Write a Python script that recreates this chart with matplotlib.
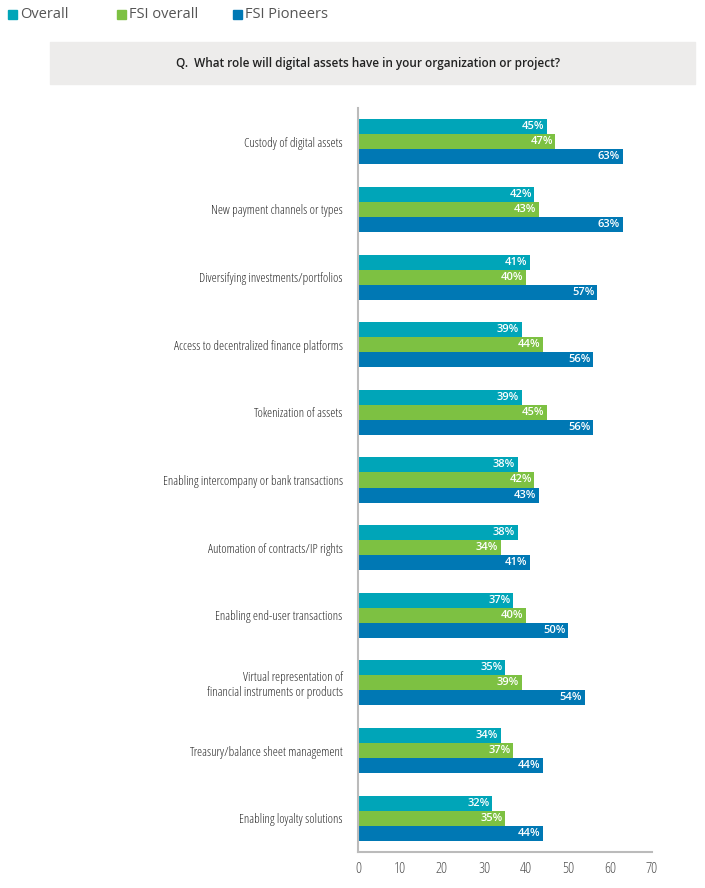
import matplotlib.pyplot as plt
import numpy as np
from matplotlib.patches import Rectangle

categories = ["Custody of digital assets", "New payment channels or types",
              "Diversifying investments/portfolios", "Access to decentralized finance platforms",
              "Tokenization of assets", "Enabling intercompany or bank transactions",
              "Automation of contracts/IP rights", "Enabling end-user transactions",
              "Virtual representation of\nfinancial instruments or products",
              "Treasury/balance sheet management", "Enabling loyalty solutions"]
overall = [45, 42, 41, 39, 39, 38, 38, 37, 35, 34, 32]
fsi_overall = [47, 43, 40, 44, 45, 42, 34, 40, 39, 37, 35]
fsi_pioneers = [63, 63, 57, 56, 56, 43, 41, 50, 54, 44, 44]
series_names = ["Overall", "FSI overall", "FSI Pioneers"]
colors = ["#00A5B8", "#7DC142", "#0078B4"]
xticks = [0, 10, 20, 30, 40, 50, 60, 70]

cond = dict(family=["Open Sans", "DejaVu Sans"], fontstretch="condensed", fontweight=300)

W, H = 705, 888
fig = plt.figure(figsize=(W / 100, H / 100), dpi=100)
ax = fig.add_axes([358 / W, 1 - 852 / H, (652 - 358) / W, (852 - 108) / H])

y = np.arange(len(categories))
bh = 0.222
for k, (vals, c) in enumerate(zip([overall, fsi_overall, fsi_pioneers], colors)):
    pos = y + (k - 1) * bh
    ax.barh(pos, vals, height=bh, color=c, edgecolor="none")
    for p, v in zip(pos, vals):
        ax.text(v - 0.6, p, f"{v}%", ha="right", va="center", color="white",
                fontsize=8, family=["Open Sans", "DejaVu Sans"], fontweight=600)

ax.set_xlim(0, 70)
ax.set_ylim(10.5, -0.5)
ax.set_yticks(y)
ax.set_yticklabels(categories, fontsize=9.2, color="#2a2a2a", **cond)
ax.set_xticks(xticks)
ax.set_xticklabels([str(t) for t in xticks], fontsize=11, color="#555555", **cond)
ax.tick_params(length=0)
ax.tick_params(axis="y", pad=11)
ax.tick_params(axis="x", pad=7)
for s in ["top", "right"]:
    ax.spines[s].set_visible(False)
for s in ["left", "bottom"]:
    ax.spines[s].set_color("#BBBBBB")
    ax.spines[s].set_linewidth(1.5)

# title box
fig.patches.append(Rectangle((50 / W, 1 - 84 / H), 645 / W, 42 / H,
                             transform=fig.transFigure, color="#EDECEB", zorder=0))
fig.text(368 / W, 1 - 63 / H, "Q.  What role will digital assets have in your organization or project?",
         ha="center", va="center", fontsize=8.5, fontweight=600, color="#222222",
         family=["Open Sans", "DejaVu Sans"])

# legend
for x0, name, c in zip([8, 117, 233], series_names, colors):
    fig.patches.append(Rectangle((x0 / W, 1 - 19 / H), 9 / W, 9 / H,
                                 transform=fig.transFigure, color=c))
    fig.text((x0 + 12) / W, 1 - 14 / H, name, ha="left", va="center", fontsize=10.5,
             color="#555555", family=["Open Sans", "DejaVu Sans"])

fig.savefig("out.png", dpi=100)
